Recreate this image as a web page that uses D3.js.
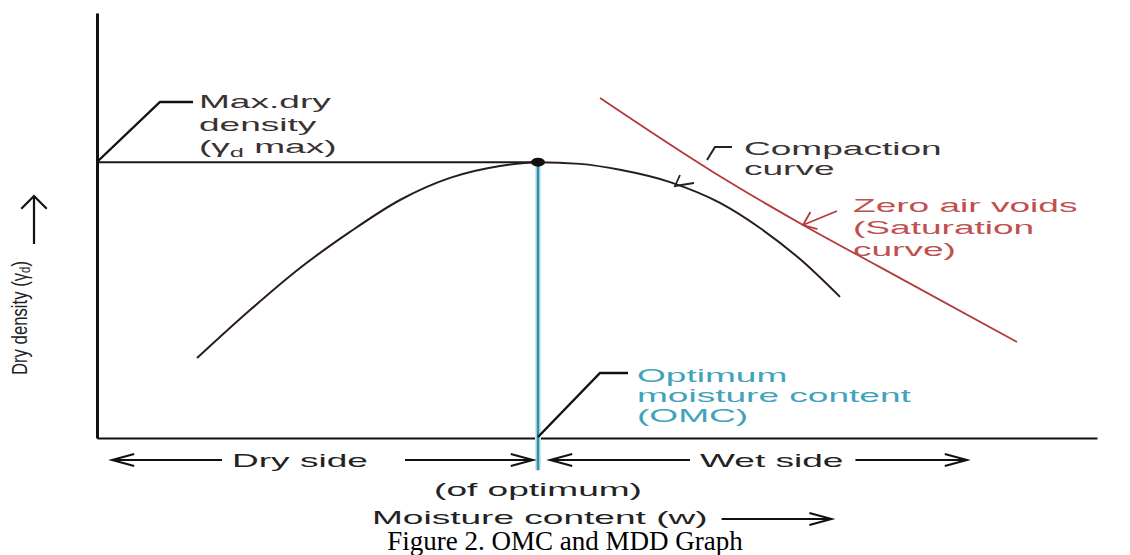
<!DOCTYPE html>
<html>
<head>
<meta charset="utf-8">
<script src="https://cdn.jsdelivr.net/npm/d3@7"></script>
<style>
  body { margin: 0; background: #fff; }
  svg { display: block; }
</style>
</head>
<body>
<div id="graph"></div>
<script>
// moisture content (%) and dry density (relative units)
const compactionW = [2.0, 3.06, 4.06, 5.06, 6.06, 7.06, 8.06, 8.82, 9.66, 10.46, 11.46, 12.46, 13.26, 14.06, 14.86];
const compactionD = [18.8, 30.1, 40.0, 48.5, 56.0, 61.2, 64.0, 64.9, 64.5, 63.1, 60.2, 55.3, 49.4, 42.1, 33.2];
const zavW = [10.06, 12.32, 14.2, 15.66, 18.4];
const zavD = [80.0, 62.6, 49.6, 40.2, 22.6];
const omc = 8.82;
const maxDry = 64.9;

const maxDryLabel = [["Max.dry"], ["density"], [["(γ"], ["d", "sub"], [" max)"]]];
const compactionLabel = [["Compaction"], ["curve"]];
const zavLabel = [["Zero air voids"], ["(Saturation"], ["curve)"]];
const omcLabel = [["Optimum"], ["moisture content"], ["(OMC)"]];
const sideLabels = ["Dry side", "Wet side", "(of optimum)", "Moisture content (w)"];
const caption = "Figure 2. OMC and MDD Graph";

const width = 1130, height = 555;
const sans = "'Liberation Sans', Arial, Helvetica, sans-serif";
const sx = 1.95; // the figure text is stretched wide

const svg = d3.select("#graph").append("svg")
    .attr("width", width)
    .attr("height", height);

const x = d3.scaleLinear().domain([0, 20]).range([97, 1097]);
const y = d3.scaleLinear().domain([0, 100]).range([438, 13]);

// axes, no ticks
svg.append("g").attr("transform", "translate(97,0)")
    .call(d3.axisLeft(y).tickValues([]).tickSizeOuter(0))
    .select(".domain").attr("stroke", "#111").attr("stroke-width", 3);
svg.append("g").attr("transform", "translate(0,438)")
    .call(d3.axisBottom(x).tickValues([]).tickSizeOuter(0))
    .select(".domain").attr("stroke", "#111").attr("stroke-width", 2.2);

// max dry density line
svg.append("line")
    .attr("x1", x(0)).attr("x2", x(omc))
    .attr("y1", y(maxDry)).attr("y2", y(maxDry))
    .attr("stroke", "#1a1a1a").attr("stroke-width", 2);

// OMC vertical
svg.append("line")
    .attr("x1", x(omc)).attr("x2", x(omc))
    .attr("y1", y(maxDry)).attr("y2", y(-7.6))
    .attr("stroke", "#c9eaf2").attr("stroke-width", 6);
svg.append("line")
    .attr("x1", x(omc)).attr("x2", x(omc))
    .attr("y1", y(maxDry)).attr("y2", y(-7.6))
    .attr("stroke", "#3a8ea6").attr("stroke-width", 2.6);

const line = d3.line()
    .x(d => x(d[0]))
    .y(d => y(d[1]))
    .curve(d3.curveMonotoneX);

svg.append("path")
    .datum(d3.zip(zavW, zavD))
    .attr("fill", "none")
    .attr("stroke", "#b33a3a")
    .attr("stroke-width", 1.8)
    .attr("d", line);

svg.append("path")
    .datum(d3.zip(compactionW, compactionD))
    .attr("fill", "none")
    .attr("stroke", "#2a1c1c")
    .attr("stroke-width", 2)
    .attr("d", line);

svg.append("ellipse")
    .attr("cx", x(omc)).attr("cy", y(maxDry))
    .attr("rx", 7).attr("ry", 4.5)
    .attr("fill", "#111");

// helpers
function poly(pts, color, w) {
    svg.append("path")
        .attr("d", d3.line()(pts))
        .attr("fill", "none")
        .attr("stroke", color)
        .attr("stroke-width", w)
        .attr("stroke-linejoin", "miter");
}

function arrow(x1, y1, x2, y2, len, ang, color, w) {
    const a = Math.atan2(y1 - y2, x1 - x2);
    const r = ang * Math.PI / 180;
    poly([[x1, y1], [x2, y2]], color, w);
    poly([
        [x2 + len * Math.cos(a + r), y2 + len * Math.sin(a + r)],
        [x2, y2],
        [x2 + len * Math.cos(a - r), y2 + len * Math.sin(a - r)]
    ], color, w);
}

function label(x0, y0, lines, lh, color, anchor) {
    let last;
    lines.forEach((ln, i) => {
        const t = svg.append("text")
            .attr("transform", `translate(${x0},${y0 + i * lh}) scale(${sx},1)`)
            .attr("font-family", sans)
            .attr("font-size", 19)
            .attr("text-anchor", anchor || "start")
            .attr("fill", color);
        const segs = typeof ln[0] === "string" ? [ln] : ln;
        segs.forEach((s, j) => {
            const sp = t.append("tspan").text(s[0]);
            if (s[1] === "sub") sp.attr("font-size", 13).attr("dy", 4);
            else if (j > 0) sp.attr("dy", -4);
        });
        last = t;
    });
    return last.node().getComputedTextLength() * sx;
}

// annotations with leaders
poly([[97, 162], [160, 102], [193, 102]], "#111", 2.4);
label(199, 108, maxDryLabel, 22.5, "#3a3232");

poly([[707, 160], [715, 147], [732, 147]], "#222", 2);
label(744, 155, compactionLabel, 19.5, "#3a3434");
poly([[680, 175], [675, 186], [694, 183]], "#222", 1.8);

arrow(837, 211, 803, 225, 15, 38, "#b33a3a", 1.8);
label(853, 212, zavLabel, 22, "#c0504f");

poly([[538, 437], [600, 373], [628, 373]], "#111", 2.4);
label(637, 382, omcLabel, 20, "#41a3ba");

// bottom side arrows
const ay = 460;
arrow(222, ay, 112, ay, 23, 15, "#111", 2);
arrow(405, ay, 533, ay, 23, 15, "#111", 2);
arrow(690, ay, 550, ay, 23, 15, "#111", 2);
label(232, 467, [[sideLabels[0]]], 0, "#222");
const wetW = label(700, 467, [[sideLabels[1]]], 0, "#222");
arrow(700 + wetW + 12, ay, 967, ay, 23, 15, "#111", 2);

label(x(omc), 496, [[sideLabels[2]]], 0, "#222", "middle");
const mcX = 372;
const mcW = label(mcX, 524, [[sideLabels[3]]], 0, "#222");
arrow(mcX + mcW + 14, 519, mcX + mcW + 124, 519, 23, 15, "#111", 2);

// y axis title
const yt = svg.append("text")
    .attr("transform", "translate(27,375) rotate(-90)")
    .attr("font-family", sans).attr("font-size", 22).attr("fill", "#222")
    .attr("textLength", 114).attr("lengthAdjust", "spacingAndGlyphs");
yt.append("tspan").text("Dry density (γ");
yt.append("tspan").attr("font-size", 15).attr("dy", 3).text("d");
yt.append("tspan").attr("dy", -3).text(")");
arrow(34, 244, 34, 196, 18, 45, "#111", 2.2);

svg.append("text")
    .attr("x", 565).attr("y", 550)
    .attr("text-anchor", "middle")
    .attr("font-family", "'Liberation Serif', 'Times New Roman', serif")
    .attr("font-size", 27).attr("fill", "#000")
    .text(caption);
</script>
</body>
</html>
